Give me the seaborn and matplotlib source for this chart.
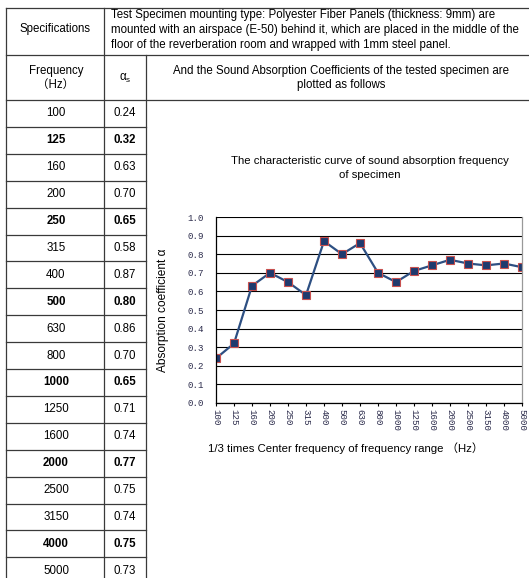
import matplotlib
matplotlib.use('Agg')
import matplotlib.pyplot as plt
import pandas as pd
import seaborn as sns

# 1/3 octave band centre frequencies and measured absorption coefficients
freqs = ['100', '125', '160', '200', '250', '315', '400', '500', '630',
         '800', '1000', '1250', '1600', '2000', '2500', '3150', '4000', '5000']
alpha_s = [0.24, 0.32, 0.63, 0.70, 0.65, 0.58, 0.87, 0.80, 0.86,
           0.70, 0.65, 0.71, 0.74, 0.77, 0.75, 0.74, 0.75, 0.73]
octave_bands = ['125', '250', '500', '1000', '2000', '4000']
y_ticks = [0.0, 0.1, 0.2, 0.3, 0.4, 0.5, 0.6, 0.7, 0.8, 0.9, 1.0]

spec_text = ("Test Specimen mounting type: Polyester Fiber Panels (thickness: 9mm) are\n"
             "mounted with an airspace (E-50) behind it, which are placed in the middle of the\n"
             "floor of the reverberation room and wrapped with 1mm steel panel.")
header_text = ("And the Sound Absorption Coefficients of the tested specimen are\n"
               "plotted as follows")
chart_title = "The characteristic curve of sound absorption frequency\nof specimen"
x_label = "1/3 times Center frequency of frequency range （Hz）"
y_label = "Absorption coefficient α"

W, H = 529, 578
fig = plt.figure(figsize=(W / 100, H / 100), dpi=100)
plt.rcParams['font.family'] = ['Liberation Sans', 'Noto Sans CJK SC', 'DejaVu Sans']

# full-figure axes in pixel coords for the table around the chart
tab = fig.add_axes([0, 0, 1, 1], zorder=0)
tab.set_xlim(0, W)
tab.set_ylim(H, 0)
tab.axis('off')

lc = '#3a3a3a'
lw = 0.9
row_top = 100
row_h = 26.9

tab.plot([6, W], [8, 8], color=lc, lw=lw)
tab.plot([6, W], [55, 55], color=lc, lw=lw)
tab.plot([6, W], [row_top, row_top], color=lc, lw=lw)
tab.plot([6, 6], [8, H], color=lc, lw=lw)
tab.plot([104, 104], [8, H], color=lc, lw=lw)
tab.plot([146, 146], [55, H], color=lc, lw=lw)
for k in range(1, len(freqs)):
    y = row_top + row_h * k
    tab.plot([6, 146], [y, y], color=lc, lw=lw)

fs = 8.3
tab.text(55, 29, "Specifications", ha='center', va='center', fontsize=fs)
tab.text(111, 30, spec_text, ha='left', va='center', fontsize=fs, linespacing=1.3)
tab.text(56, 78, "Frequency\n（Hz）", ha='center', va='center', fontsize=fs,
         linespacing=1.3, multialignment='center')
tab.text(125, 78, r'$\mathregular{\alpha_s}$', ha='center', va='center', fontsize=fs)
tab.text(341, 78, header_text, ha='center', va='center', fontsize=fs,
         linespacing=1.3, multialignment='center')

for k, (f, a) in enumerate(zip(freqs, alpha_s)):
    yc = row_top + row_h * (k + 0.5)
    wt = 'bold' if f in octave_bands else 'normal'
    tab.text(56, yc, f, ha='center', va='center', fontsize=fs, weight=wt)
    tab.text(125, yc, f'{a:.2f}', ha='center', va='center', fontsize=fs, weight=wt)

tab.text(370, 168, chart_title, ha='center', va='center', fontsize=8.2,
         linespacing=1.45, multialignment='center')
tab.text(163, 310, y_label, ha='center', va='center', rotation=90, fontsize=8.6)
tab.text(346, 448, x_label, ha='center', va='center', fontsize=8.2)

# chart
ax = fig.add_axes([216 / W, 1 - 403 / H, 306 / W, 186 / H], zorder=1)
df = pd.DataFrame({'freq': freqs, 'alpha': alpha_s})
sns.lineplot(data=df, x='freq', y='alpha', ax=ax, sort=False,
             color='#2d4f82', lw=1.6, marker='s', markersize=5.2,
             markerfacecolor='#1f3a6e', markeredgecolor='#c8504f',
             markeredgewidth=0.8)

tick_font = dict(family='Liberation Mono', fontsize=6.6, color='#2b2b4b')
ax.set_xlim(0, len(freqs) - 1)
ax.set_ylim(0, 1)
ax.set_xlabel('')
ax.set_ylabel('')
ax.set_yticks(y_ticks)
ax.set_yticklabels([f'{v:.1f}' for v in y_ticks], **tick_font)
ax.set_xticks(range(len(freqs)))
ax.set_xticklabels(freqs, rotation=270, va='top', ha='center', **tick_font)
ax.tick_params(axis='y', length=0, pad=9)
ax.tick_params(axis='x', length=2.5, width=0.8, direction='out', pad=2)
ax.yaxis.grid(True, color='black', lw=0.8)
ax.xaxis.grid(False)
ax.set_axisbelow(True)
ax.set_facecolor('none')
for side in ['left', 'bottom']:
    ax.spines[side].set_color('black')
    ax.spines[side].set_linewidth(0.9)
ax.spines['top'].set_visible(False)
ax.spines['right'].set_color('#999999')
ax.spines['right'].set_linewidth(0.9)

fig.savefig('out.png', dpi=100)
